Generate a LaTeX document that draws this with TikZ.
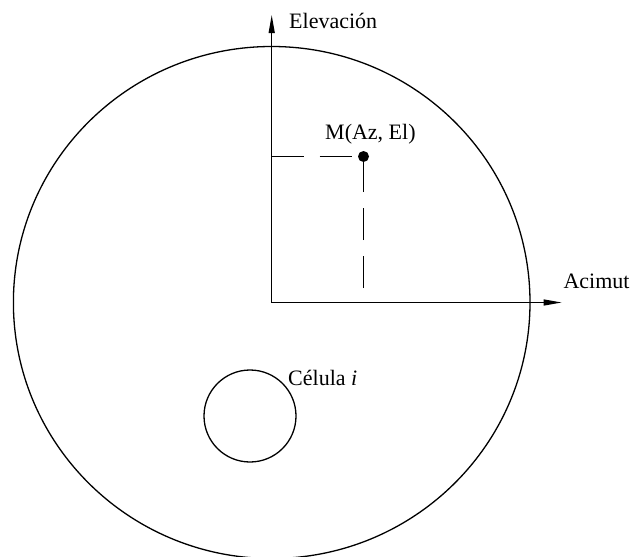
\documentclass[tikz,border=0pt]{standalone}
\usepackage{fontspec}
\setmainfont{Liberation Serif}
\usetikzlibrary{arrows.meta}
\begin{document}
\begin{tikzpicture}[x=1pt,y=-1pt,
  axis/.style={line width=1.2pt,-{Triangle[length=18pt,width=6pt]}},
  ring/.style={line width=1.3pt},
  guide/.style={line width=1.5pt,dash pattern=on 32pt off 16pt},
  lbl/.style={inner sep=0pt,anchor=base west,font=\fontsize{22}{26}\selectfont},
  dot/.style={circle,fill=black,inner sep=0pt,minimum size=11pt}]
\useasboundingbox (0,0) rectangle (635,557);
\coordinate (O) at (271.7,302.5);
\coordinate (ytip) at (271.7,15);
\coordinate (xtip) at (561.7,302.5);
\coordinate (Mc) at (363.5,156.5);
\draw[ring] (O) ellipse [x radius=258.3, y radius=256];
\node[ring,draw,circle,minimum size=92pt,inner sep=0pt] (cell) at (250,416) {};
\coordinate (Mx) at (O |- Mc);
\coordinate (My) at (363.5,288);
\draw[guide] (Mx) -- (Mc);
\draw[guide] (My) -- (Mc);
\node[dot] (M) at (Mc) {};
\draw[axis] (O) -- (ytip);
\draw[axis] (O) -- (xtip);
\node[lbl] (elev) at (289,28.3) {Elevación};
\node[lbl] (acim) at (563.3,288.3) {Acimut};
\node[lbl] (mlab) at (325,139) {M(Az, El)};
\node[lbl] (clab) at (288,385) {Célula \textit{i}};
\end{tikzpicture}
\end{document}
